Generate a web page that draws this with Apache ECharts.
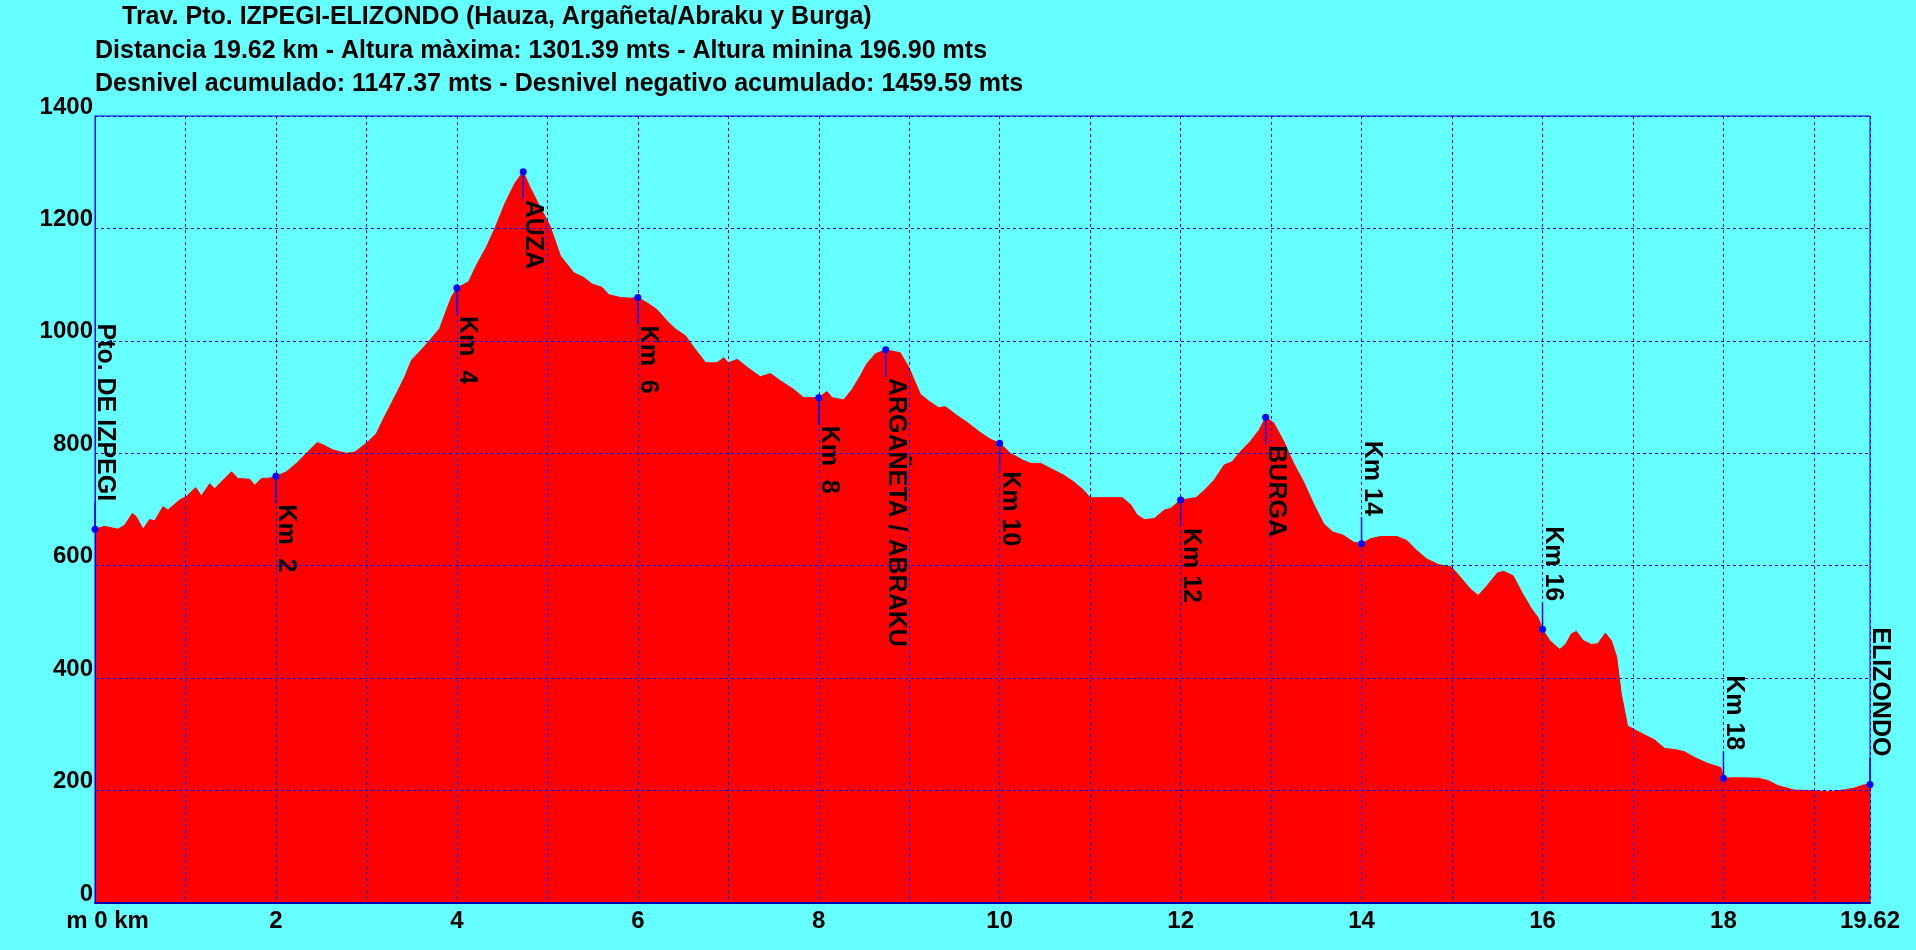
<!DOCTYPE html>
<html>
<head>
<meta charset="utf-8">
<script src="https://cdn.jsdelivr.net/npm/echarts@6/dist/echarts.min.js"></script>
<style>
html,body{margin:0;padding:0;background:#66ffff;}
#chart{width:1916px;height:950px;}
</style>
</head>
<body>
<div id="chart"></div>
<script>
const titleLines = [
  'Trav. Pto. IZPEGI-ELIZONDO (Hauza, Argañeta/Abraku y Burga)',
  'Distancia 19.62 km - Altura màxima: 1301.39 mts - Altura minina 196.90 mts',
  'Desnivel acumulado: 1147.37 mts - Desnivel negativo acumulado: 1459.59 mts'
];

const distKm = [0,0.107,0.254,0.328,0.413,0.457,0.531,0.604,0.66,0.752,0.807,0.936,1.01,1.113,1.176,1.268,1.323,1.434,1.508,1.581,1.71,1.765,1.839,1.931,2.0,2.116,2.226,2.355,2.455,2.52,2.63,2.78,2.87,3.0,3.11,3.2,3.277,3.35,3.424,3.5,3.59,3.7,3.81,3.885,3.94,4.0,4.13,4.217,4.327,4.42,4.53,4.64,4.733,4.806,4.9,5.028,5.145,5.293,5.4,5.495,5.606,5.68,5.81,5.92,6.0,6.1,6.21,6.32,6.416,6.527,6.62,6.75,6.877,6.95,7.0,7.1,7.21,7.355,7.466,7.576,7.72,7.834,8.0,8.09,8.147,8.276,8.37,8.46,8.53,8.626,8.74,8.9,8.995,9.123,9.216,9.326,9.4,9.53,9.64,9.786,9.897,10.0,10.118,10.265,10.345,10.455,10.6,10.71,10.82,10.93,11.0,11.357,11.45,11.52,11.6,11.71,11.82,11.89,12.0,12.17,12.26,12.37,12.48,12.57,12.66,12.77,12.87,12.94,13.03,13.14,13.25,13.36,13.47,13.58,13.68,13.8,13.91,14.0,14.1,14.21,14.39,14.5,14.61,14.72,14.85,14.99,15.09,15.2,15.29,15.39,15.5,15.57,15.676,15.77,15.88,15.95,16.0,16.08,16.19,16.26,16.32,16.375,16.45,16.54,16.61,16.695,16.76,16.82,16.87,16.94,17.02,17.13,17.24,17.35,17.46,17.57,17.68,17.83,17.97,18.0,18.12,18.38,18.49,18.6,18.71,18.78,19.0,19.15,19.33,19.44,19.55,19.62];

const elevM = [665,670,665,672,693,687,665,682,680,705,699,717,723,739,724,746,737,755,767,755,754,743,755,756,759,767,782,803,819,815,806,800,802,818,835,865,889,912,936,966,981,1001,1022,1055,1078,1094,1105,1135,1167,1200,1244,1280,1301,1274,1244,1205,1151,1121,1113,1101,1095,1082,1077,1076,1077,1068,1056,1036,1021,1009,988,961,961,970,961,967,953,936,942,929,914,899,899,910,899,895,914,938,959,977,984,979,953,905,893,881,883,867,855,837,825,818,800,787,782,782,770,761,749,734,721,721,708,690,682,684,699,702,717,721,734,752,779,785,803,821,842,864,854,821,782,749,710,675,660,654,642,639,648,652,652,645,627,612,602,598,580,559,547,565,587,590,582,553,523,508,487,467,451,461,479,483,467,460,461,480,467,438,373,315,308,299,290,275,273,269,259,248,241,222,223,222,218,209,204,201,200,198,201,204,210,211];

const markerNames = ['Pto. DE IZPEGI','Km  2','Km  4','AUZA','Km  6','Km  8','ARGAÑETA / ABRAKU','Km 10','Km 12','BURGA','Km 14','Km 16','Km 18','ELIZONDO'];
const markerKm    = [0, 2, 4, 4.733, 6, 8, 8.74, 10, 12, 12.94, 14, 16, 18, 19.62];
const markerElev  = [665, 759, 1094, 1301, 1077, 899, 984, 818, 717, 864, 639, 487, 222, 211];
const markerUp    = [1, 0, 0, 0, 0, 0, 0, 0, 0, 0, 1, 1, 1, 1];

const yTicks = {min: 0, max: 1400, interval: 200};
const xTicks = {min: 0, max: 19.62, interval: 1, labelEvery: 2};

const FONT = '"Liberation Sans", Arial, Helvetica, sans-serif';

const chart = echarts.init(document.getElementById('chart'));

const profile = distKm.map((d, i) => [d, elevM[i]]);
const markers = markerKm.map((d, i) => [d, markerElev[i], markerUp[i]]);

chart.setOption({
  backgroundColor: '#66ffff',
  animation: false,
  title: [
    {text: titleLines[0], left: 122, top: 5, padding: 0,
     textStyle: {fontFamily: FONT, fontWeight: 'bold', fontSize: 25, color: '#000'}},
    {text: titleLines[1], left: 95, top: 39, padding: 0,
     textStyle: {fontFamily: FONT, fontWeight: 'bold', fontSize: 25, color: '#000'}},
    {text: titleLines[2], left: 95, top: 72, padding: 0,
     textStyle: {fontFamily: FONT, fontWeight: 'bold', fontSize: 25, color: '#000'}}
  ],
  grid: {left: 95, right: 46, top: 116, bottom: 47, show: true,
         borderColor: '#0000ff', borderWidth: 1, backgroundColor: 'transparent'},
  xAxis: {
    type: 'value', min: xTicks.min, max: xTicks.max, interval: xTicks.interval, z: 3,
    axisLine: {show: true, lineStyle: {color: '#0000aa', width: 2}},
    axisTick: {show: false},
    splitLine: {show: true, lineStyle: {color: '#0000ff', width: 1, type: [3, 3]}},
    axisLabel: {
      color: '#000', fontFamily: FONT, fontWeight: 'bold', fontSize: 24, margin: 6,
      showMinLabel: true, showMaxLabel: true,
      formatter: function (v) {
        if (Math.abs(v - xTicks.max) < 1e-6) return String(xTicks.max);
        if (v === 0) return '{z|m 0 km}';
        if (Math.abs(v % xTicks.labelEvery) < 1e-6) return String(v);
        return '';
      },
      rich: {z: {fontFamily: FONT, fontWeight: 'bold', fontSize: 24, color: '#000', padding: [0, 0, 0, 25]}}
    }
  },
  yAxis: {
    type: 'value', min: yTicks.min, max: yTicks.max, interval: yTicks.interval, z: 3,
    axisLine: {show: true, lineStyle: {color: '#0000ff', width: 1}},
    axisTick: {show: false},
    splitLine: {show: true, lineStyle: {color: '#0000ff', width: 1, type: [3, 3]}},
    axisLabel: {color: '#000', fontFamily: FONT, fontWeight: 'bold', fontSize: 24,
                margin: 2, verticalAlign: 'bottom', lineHeight: 18,
                formatter: function (v) { return String(v); }}
  },
  series: [
    {
      type: 'line', data: profile, showSymbol: false, smooth: false, z: 2,
      lineStyle: {color: '#ff0000', width: 1},
      areaStyle: {color: '#ff0000', opacity: 1}
    },
    {
      type: 'custom', data: markers, z: 5, clip: false,
      renderItem: function (params, api) {
        const i = params.dataIndex;
        const p = api.coord([api.value(0), api.value(1)]);
        const up = api.value(2) === 1;
        const stem = 27;
        const y2 = up ? p[1] - stem : p[1] + stem;
        return {
          type: 'group',
          children: [
            {type: 'line', shape: {x1: p[0], y1: p[1], x2: p[0], y2: y2},
             style: {stroke: '#0000ff', lineWidth: 1.5}},
            {type: 'circle', shape: {cx: p[0], cy: p[1], r: 3.5}, style: {fill: '#0000ff'}},
            {type: 'text', x: p[0] + 10, y: y2 + (up ? -1 : 1), rotation: -Math.PI / 2,
             style: {text: markerNames[i], fill: '#000', font: 'bold 25px ' + FONT,
                     align: up ? 'right' : 'left', verticalAlign: 'middle'}}
          ]
        };
      }
    }
  ]
});
</script>
</body>
</html>
